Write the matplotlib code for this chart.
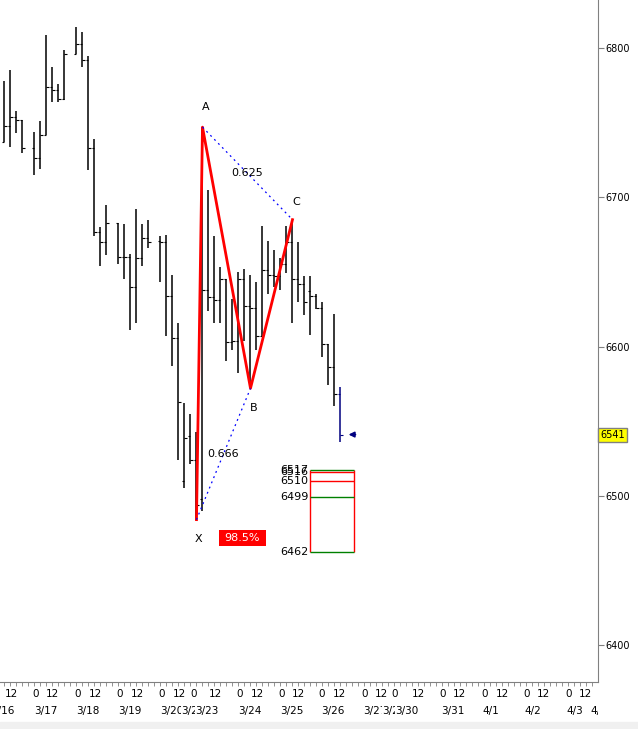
import matplotlib.pyplot as plt
import matplotlib.transforms as mtransforms
from matplotlib.patches import Rectangle

# 4h OHLC bars; x is the bar slot on the chart (missing slots = daily break)
slots = [0, 1, 2, 3, 5, 6, 7, 8, 9, 10, 12, 13, 14, 15, 16, 17, 19, 20, 21, 22, 23, 24,
         26, 27, 28, 29, 30, 31, 32, 33, 34, 35, 36, 37, 38, 39, 40, 41, 42, 43, 44, 45,
         46, 47, 48, 49, 50, 51, 52, 53, 54, 55, 56]
opens = [6737, 6748, 6754, 6752, 6733, 6726, 6742, 6774, 6772, 6766, 6796, 6803, 6792, 6733,
         6677, 6670, 6683, 6660, 6660, 6640, 6659, 6673, 6671, 6670, 6634, 6606, 6510, 6540,
         6524, 6498, 6638, 6633, 6631, 6645, 6603, 6604, 6645, 6627, 6626, 6607, 6651, 6648,
         6647, 6655, 6670, 6645, 6642, 6637, 6634, 6626, 6602, 6586, 6568]
highs = [6778, 6785, 6758, 6752, 6744, 6751, 6809, 6787, 6776, 6799, 6814, 6811, 6795, 6739,
         6680, 6695, 6683, 6682, 6662, 6692, 6682, 6685, 6674, 6675, 6648, 6616, 6562, 6555,
         6543, 6747, 6705, 6674, 6653, 6645, 6632, 6650, 6652, 6648, 6643, 6681, 6671, 6665,
         6659, 6681, 6685, 6670, 6647, 6647, 6635, 6630, 6602, 6622, 6573]
lows = [6737, 6734, 6743, 6730, 6715, 6719, 6742, 6764, 6764, 6765, 6796, 6787, 6718, 6674,
        6654, 6661, 6655, 6645, 6611, 6616, 6654, 6666, 6643, 6607, 6587, 6524, 6505, 6521,
        6484, 6490, 6624, 6616, 6616, 6590, 6598, 6582, 6604, 6572, 6598, 6607, 6635, 6640,
        6638, 6649, 6616, 6630, 6621, 6608, 6625, 6593, 6574, 6560, 6536]
closes = [6748, 6754, 6752, 6733, 6726, 6742, 6774, 6772, 6766, 6796, 6803, 6792, 6733, 6677,
          6670, 6683, 6660, 6660, 6640, 6659, 6673, 6670, 6670, 6634, 6606, 6563, 6539, 6524,
          6494, 6638, 6633, 6631, 6645, 6603, 6604, 6645, 6627, 6626, 6607, 6651, 6648, 6647,
          6655, 6670, 6645, 6642, 6630, 6634, 6626, 6602, 6586, 6568, 6541]

# XABC pattern
pat_names = ['X', 'A', 'B', 'C']
pat_slots = [32, 33, 41, 48]
pat_vals = [6484, 6747, 6572, 6685]
ratio_labels = ['0.666', '0.625']
completion = '98.5%'

# projected levels box
target_levels = [6517, 6516, 6510, 6499, 6462]
target_colors = ['green', 'red', 'red', 'green', 'green']
box_slots = [51.0, 58.2]

last_price = 6541
y_ticks = [6400, 6500, 6600, 6700, 6800]

# time axis labels
hour_text = ['12', '0', '12', '0', '12', '0', '12', '0', '12', '0', '12', '0', '12',
             '0', '12', '0', '12', '0', '12', '0', '12', '0', '12', '0', '12', '0', '12',
             '0', '12']
hour_pos = [0.1, 4.6, 6.9, 11.7, 14.0, 18.7, 21.0, 25.7, 28.0, 30.9, 34.0, 38.7, 41.0,
            45.6, 47.9, 52.3, 54.7, 59.4, 61.7, 64.4, 67.9, 72.5, 74.8, 79.5, 81.9,
            86.5, 88.8, 93.4, 95.7]
day_text = ['3/16', '3/17', '3/18', '3/19', '3/20', '3/22', '3/23', '3/24', '3/25', '3/26',
            '3/27', '3/29', '3/30', '3/31', '4/1', '4/2', '4/3', '4/4']
day_pos = [-2.2, 4.9, 11.9, 18.9, 25.9, 29.5, 31.75, 39.0, 45.9, 52.8, 59.8, 62.9, 65.1,
           72.8, 79.7, 86.7, 93.7, 97.7]

W, H = 638, 729
fig = plt.figure(figsize=(W / 100, H / 100), dpi=100)
fig.patches.append(Rectangle((0, 0), 1, 7 / H, transform=fig.transFigure,
                             color='#f0f0f0', zorder=-5))
ax = fig.add_axes([0, 47 / H, 598 / W, 682 / H])
ax.set_xlim(-0.75, 98.92)
ax.set_ylim(6375.2, 6832.2)

# OHLC bars
for i, s in enumerate(slots):
    col = 'navy' if i == len(slots) - 1 else 'black'
    ax.vlines(s, lows[i], highs[i], color=col, lw=1.1, zorder=2)
    ax.hlines(opens[i], s - 0.42, s, color=col, lw=0.8, zorder=2)
    ax.hlines(closes[i], s, s + 0.42, color=col, lw=0.8, zorder=2)

# pattern legs
ax.plot(pat_slots, pat_vals, color='red', lw=2.0, zorder=3)
ax.plot([pat_slots[0], pat_slots[2]], [pat_vals[0], pat_vals[2]], color='blue',
        lw=0.9, ls=(0, (1.5, 3)), zorder=3)
ax.plot([pat_slots[1], pat_slots[3]], [pat_vals[1], pat_vals[3]], color='blue',
        lw=0.9, ls=(0, (1.5, 3)), zorder=3)
offs = [(0.4, -13), (0.6, 13.5), (0.5, -13.5), (0.6, 12)]
for n, s, v, (dx, dy) in zip(pat_names, pat_slots, pat_vals, offs):
    ax.text(s + dx, v + dy, n, fontsize=8, ha='center', va='center')
ax.text((pat_slots[0] + pat_slots[2]) / 2, (pat_vals[0] + pat_vals[2]) / 2, ratio_labels[0],
        fontsize=8, ha='center', va='center', zorder=4)
ax.text((pat_slots[1] + pat_slots[3]) / 2, (pat_vals[1] + pat_vals[3]) / 2, ratio_labels[1],
        fontsize=8, ha='center', va='center', zorder=4)
ax.add_patch(Rectangle((pat_slots[0] + 3.75, pat_vals[0] - 17.5), 7.8, 10.5,
                       color='red', lw=0, zorder=3))
ax.text(pat_slots[0] + 7.65, pat_vals[0] - 12.3, completion, color='white', fontsize=8,
        ha='center', va='center', zorder=4)

# target box
ax.vlines(box_slots, min(target_levels), max(target_levels), color='red', lw=1.0, zorder=3)
for lvl, c in zip(target_levels[::-1], target_colors[::-1]):
    ax.hlines(lvl, box_slots[0], box_slots[1], color=c, lw=1.0, zorder=3)
for lvl in target_levels[::-1]:
    ax.text(box_slots[0] - 0.3, lvl, str(lvl), fontsize=8, ha='right', va='center', zorder=4)

# last price arrow
ax.annotate('', xy=(slots[-1] + 1.35, last_price), xytext=(slots[-1] + 2.5, last_price),
            arrowprops=dict(arrowstyle='-|>', color='navy', lw=1.2, mutation_scale=8,
                            shrinkA=0, shrinkB=0))

# axes styling
for sp in ['left', 'top']:
    ax.spines[sp].set_visible(False)
for sp in ['right', 'bottom']:
    ax.spines[sp].set_color('gray')
ax.yaxis.tick_right()
ax.set_yticks(y_ticks)
ax.set_yticklabels([str(t) for t in y_ticks])
ax.tick_params(axis='y', length=4, color='gray', labelsize=7, pad=1)
ax.set_xticks([])
ax.set_xticks(range(0, 99), minor=True)
ax.tick_params(axis='x', which='minor', length=3, color='gray')

ax.text(1.004, last_price, str(last_price), transform=ax.get_yaxis_transform(), fontsize=7,
        ha='left', va='center', clip_on=False,
        bbox=dict(boxstyle='square,pad=0.2', fc='yellow', ec='gray', lw=1))

trans = mtransforms.blended_transform_factory(ax.transData, fig.transFigure)
clip = Rectangle((0, 0), 598 / W, 1, transform=fig.transFigure, visible=False)
fig.patches.append(clip)
for t, p in zip(hour_text, hour_pos):
    tx = ax.text(p, 1 - 694 / H, t, transform=trans, fontsize=7.5, ha='left', va='center',
                 bbox=dict(fc='white', ec='none', pad=0), clip_on=True)
    tx.set_clip_path(clip)
for t, p in zip(day_text, day_pos):
    tx = ax.text(p, 1 - 711 / H, t, transform=trans, fontsize=7.5, ha='left', va='center',
                 bbox=dict(fc='white', ec='none', pad=0), clip_on=True)
    tx.set_clip_path(clip)

fig.savefig('out.png', dpi=100)
